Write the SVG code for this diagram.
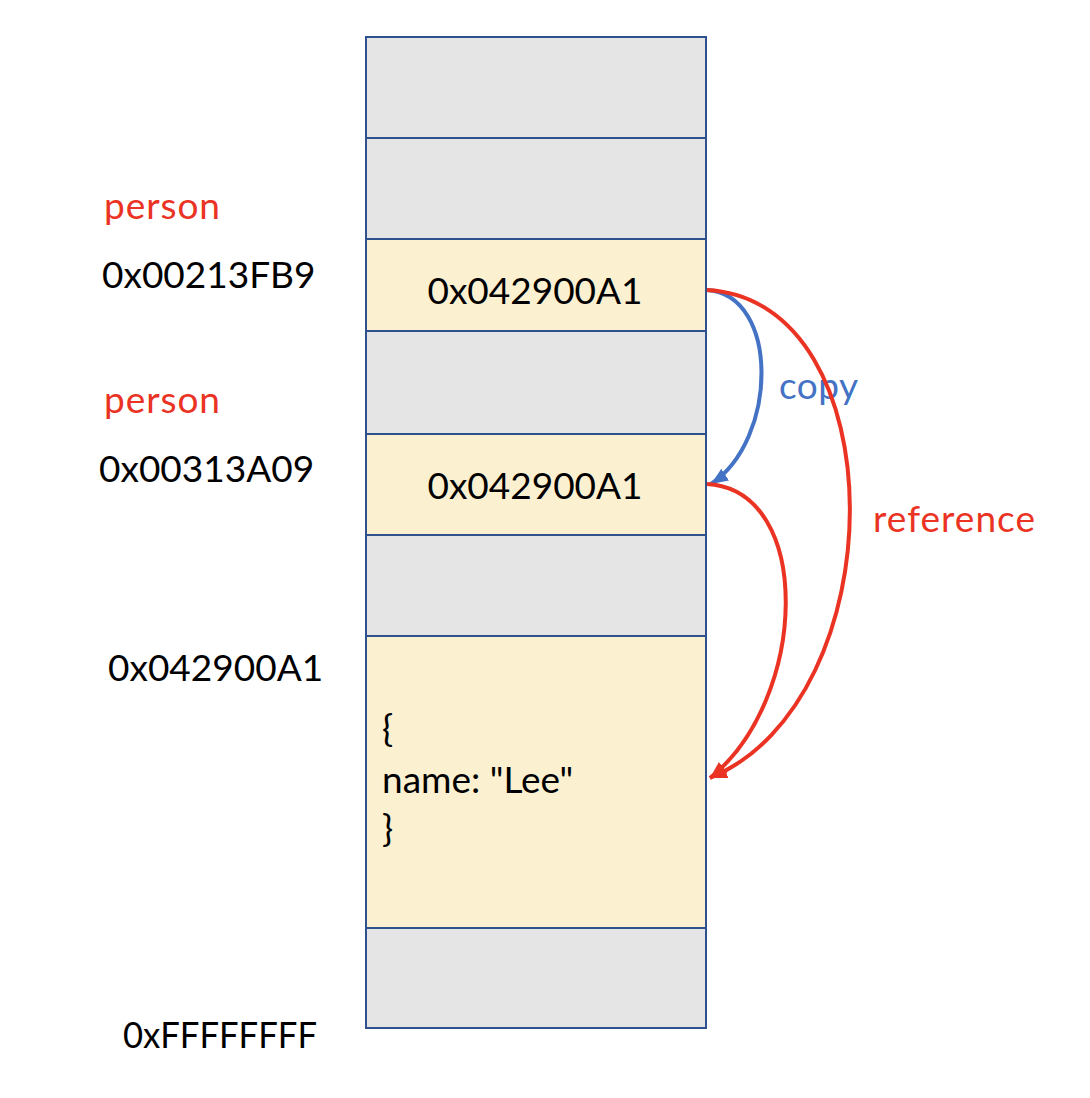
<svg xmlns="http://www.w3.org/2000/svg" width="1090" height="1098" viewBox="0 0 1090 1098">
<style>
.cell{stroke:#2F528F;stroke-width:2}
.gray{fill:#E5E5E5}
.yel{fill:#FBF1D1}
.t{font-family:Lato,"Open Sans",sans-serif;font-size:37px;fill:#000}
.red{fill:#EA3323}
.blue{fill:#4472C4}
.con{fill:none;stroke-width:4}
</style>
<defs>
<marker id="ar" markerUnits="userSpaceOnUse" markerWidth="20" markerHeight="20" refX="17" refY="7" orient="auto">
<path d="M0,0 L17,7 L0,14 Z" fill="#EA3323"/>
</marker>
<marker id="ab" markerUnits="userSpaceOnUse" markerWidth="20" markerHeight="20" refX="17" refY="7" orient="auto">
<path d="M0,0 L17,7 L0,14 Z" fill="#4472C4"/>
</marker>
</defs>
<rect width="1090" height="1098" fill="#fff"/>
<g id="memory">
<g id="row1"><rect class="cell gray" x="366" y="37" width="340" height="101"/></g>
<g id="row2"><rect class="cell gray" x="366" y="138" width="340" height="101"/></g>
<g id="row3"><rect class="cell yel" x="366" y="239" width="340" height="92"/><text class="t" x="535" y="304" text-anchor="middle">0x042900A1</text></g>
<g id="row4"><rect class="cell gray" x="366" y="331" width="340" height="103"/></g>
<g id="row5"><rect class="cell yel" x="366" y="434" width="340" height="101"/><text class="t" x="535" y="499" text-anchor="middle">0x042900A1</text></g>
<g id="row6"><rect class="cell gray" x="366" y="535" width="340" height="101"/></g>
<g id="row7"><rect class="cell yel" x="366" y="636" width="340" height="292"/>
<text class="t" x="382" y="742">{</text>
<text class="t" x="382" y="793">name: "Lee"</text>
<text class="t" x="382" y="842">}</text></g>
<g id="row8"><rect class="cell gray" x="366" y="928" width="340" height="100"/></g>
</g>
<g id="labels">
<text class="t red" x="104" y="219" textLength="116">person</text>
<text class="t" x="102" y="288">0x00213FB9</text>
<text class="t red" x="104" y="413" textLength="116">person</text>
<text class="t" x="99" y="482">0x00313A09</text>
<text class="t" x="108" y="681">0x042900A1</text>
<text class="t" x="123" y="1048" textLength="194" lengthAdjust="spacingAndGlyphs">0xFFFFFFFF</text>
<text class="t blue" x="779" y="399" textLength="79">copy</text>
<text class="t red" x="873" y="532" textLength="162">reference</text>
</g>
<g id="connectors">
<path class="con" stroke="#4472C4" d="M707,290 C780,295 778,440 711,484" marker-end="url(#ab)"/>
<path class="con" stroke="#EA3323" d="M707,290 C897,300 897,700 710,778" marker-end="url(#ar)"/>
<path class="con" stroke="#EA3323" d="M707,484 C815,490 808,700 710,778" marker-end="url(#ar)"/>
</g>
</svg>
